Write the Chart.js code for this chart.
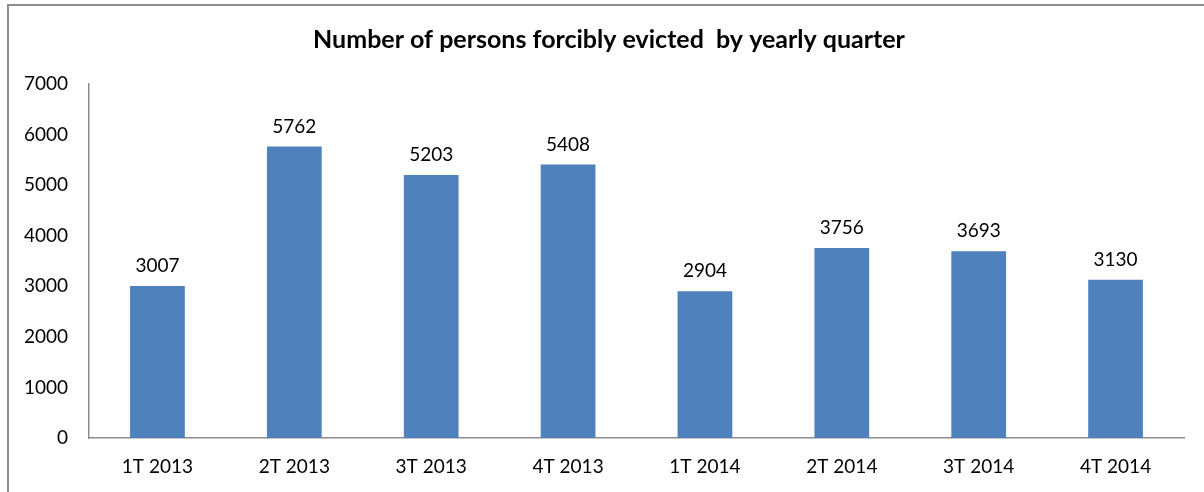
<!DOCTYPE html>
<html>
<head>
<meta charset="utf-8">
<script src="https://cdn.jsdelivr.net/npm/chart.js@4/dist/chart.umd.min.js"></script>
<style>
html,body{margin:0;padding:0;background:#fff;}
#wrap{position:relative;width:1204px;height:492px;overflow:hidden;}
#frame{position:absolute;left:7px;top:4px;width:1300px;height:600px;border-left:2px solid #8c8c8c;border-top:2px solid #8c8c8c;box-sizing:border-box;}
canvas{position:absolute;left:0;top:0;}
</style>
</head>
<body>
<div id="wrap">
<div id="frame"></div>
<canvas id="c" width="1204" height="492"></canvas>
</div>
<script>
const titleText = "Number of persons forcibly evicted  by yearly quarter";
const categories = ["1T 2013","2T 2013","3T 2013","4T 2013","1T 2014","2T 2014","3T 2014","4T 2014"];
const values = [3007, 5762, 5203, 5408, 2904, 3756, 3693, 3130];
const yTicks = [0, 1000, 2000, 3000, 4000, 5000, 6000, 7000];

const FONT = "Lato, 'Liberation Sans', sans-serif";

const titlePlugin = {
  id: 'customTitle',
  afterDraw(chart) {
    const ctx = chart.ctx;
    ctx.save();
    ctx.font = "bold 25px " + FONT;
    ctx.fillStyle = "#000";
    ctx.textAlign = "center";
    ctx.textBaseline = "middle";
    ctx.fillText(titleText, 609, 40);
    ctx.restore();
  }
};

const labelPlugin = {
  id: 'valueLabels',
  afterDatasetsDraw(chart) {
    const ctx = chart.ctx;
    const meta = chart.getDatasetMeta(0);
    ctx.save();
    ctx.font = "19px " + FONT;
    ctx.fillStyle = "#000";
    ctx.textAlign = "center";
    ctx.textBaseline = "middle";
    meta.data.forEach((bar, i) => {
      ctx.fillText(String(values[i]), bar.x, bar.y - 20);
    });
    ctx.restore();
  }
};

new Chart(document.getElementById('c'), {
  type: 'bar',
  data: {
    labels: categories,
    datasets: [{
      data: values,
      backgroundColor: '#4F81BD',
      borderWidth: 0,
      barPercentage: 0.8,
      categoryPercentage: 0.5
    }]
  },
  options: {
    responsive: false,
    animation: false,
    devicePixelRatio: 1,
    layout: { padding: { left: 0, right: 20, top: 84, bottom: 0 } },
    plugins: { legend: { display: false }, tooltip: { enabled: false }, title: { display: false } },
    scales: {
      x: {
        grid: { display: false, drawTicks: false },
        border: { display: true, color: '#8c8c8c', width: 1.5 },
        ticks: { color: '#000', font: { family: FONT, size: 19 }, padding: 17, maxRotation: 0 },
        afterFit(s) { s.height = 54; }
      },
      y: {
        min: 0, max: 7000,
        afterBuildTicks(s) { s.ticks = yTicks.map(v => ({ value: v })); },
        grid: { display: false, drawTicks: false },
        border: { display: true, color: '#8c8c8c', width: 1.5 },
        ticks: { color: '#000', font: { family: FONT, size: 19 }, padding: 21, callback: v => String(v) },
        afterFit(s) { s.width = 89; }
      }
    }
  },
  plugins: [titlePlugin, labelPlugin]
});
</script>
</body>
</html>
